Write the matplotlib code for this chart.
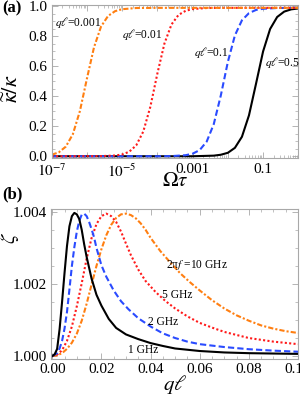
import numpy as np
import matplotlib.pyplot as plt
from matplotlib.ticker import MultipleLocator, LogLocator, NullFormatter

plt.rcParams['font.family'] = ['Liberation Serif', 'DejaVu Serif']
plt.rcParams['mathtext.fontset'] = 'stix'

# ---- panel (a): kappa_tilde / kappa vs Omega*tau (log10 of Omega*tau)
logx_a001 = [-7.0, -6.8, -6.6, -6.4, -6.2, -6.0, -5.8, -5.6, -5.4, -5.2, -5.0, -4.6, -4.0, -3.0, -2.0, -1.0, 0.0]
kap_a001 = [0.010, 0.026, 0.064, 0.147, 0.301, 0.518, 0.726, 0.865, 0.936, 0.968, 0.981, 0.989, 0.99, 0.99, 0.99, 0.99, 0.99]

logx_a01 = [-7.0, -5.6, -5.2, -5.0, -4.8, -4.6, -4.4, -4.2, -4.0, -3.8, -3.6, -3.4, -3.2, -3.0, -2.6, -2.0, 0.0]
kap_a01 = [0.0, 0.001, 0.005, 0.012, 0.030, 0.073, 0.165, 0.330, 0.552, 0.752, 0.879, 0.943, 0.970, 0.982, 0.989, 0.99, 0.99]

logx_a1 = [-7.0, -4.0, -3.6, -3.2, -3.0, -2.8, -2.6, -2.4, -2.2, -2.0, -1.8, -1.6, -1.4, -1.2, -1.0, -0.6, 0.0]
kap_a1 = [0.0, 0.0, 0.001, 0.007, 0.017, 0.041, 0.098, 0.214, 0.405, 0.629, 0.806, 0.907, 0.955, 0.976, 0.984, 0.989, 0.99]

logx_a5 = [-7.0, -3.0, -2.4, -2.2, -2.0, -1.8, -1.6, -1.4, -1.2, -1.0, -0.8, -0.6, -0.4, -0.2, 0.0]
kap_a5 = [0.0, 0.0, 0.004, 0.010, 0.023, 0.056, 0.130, 0.273, 0.484, 0.699, 0.849, 0.929, 0.965, 0.980, 0.986]

xticks_a = [1e-7, 1e-6, 1e-5, 1e-4, 1e-3, 1e-2, 1e-1, 1]
xticklabels_a = [r'$10^{-7}$', '', r'$10^{-5}$', '', '0.001', '', '0.1', '']
labels_a = [r'$q\ell$=0.001', r'$q\ell$=0.01', r'$q\ell$=0.1', r'$q\ell$=0.5']

# ---- panel (b): zeta vs q*l, values given as (zeta-1)*1e3
q_1 = [0.0, 0.001, 0.002, 0.003, 0.004, 0.005, 0.006, 0.007, 0.008, 0.009, 0.010, 0.011, 0.012, 0.013, 0.014,
       0.016, 0.018, 0.020, 0.023, 0.026, 0.030, 0.035, 0.040, 0.045, 0.050, 0.060, 0.070, 0.080, 0.090, 0.100]
z_1 = [0.0, 0.05, 0.20, 0.75, 1.50, 2.30, 3.05, 3.60, 3.88, 3.97, 3.93, 3.80, 3.50, 3.10, 2.75,
       2.15, 1.70, 1.40, 1.03, 0.78, 0.60, 0.47, 0.36, 0.28, 0.21, 0.14, 0.10, 0.08, 0.07, 0.06]

q_2 = [0.0, 0.002, 0.003, 0.004, 0.005, 0.006, 0.007, 0.008, 0.009, 0.010, 0.011, 0.012, 0.013, 0.014, 0.015,
       0.016, 0.017, 0.018, 0.020, 0.022, 0.025, 0.028, 0.031, 0.035, 0.040, 0.045, 0.050, 0.055, 0.060,
       0.070, 0.080, 0.090, 0.100]
z_2 = [0.0, 0.08, 0.21, 0.42, 0.76, 1.22, 1.85, 2.50, 3.02, 3.45, 3.75, 3.92, 3.95, 3.88, 3.72,
       3.52, 3.30, 3.00, 2.52, 2.20, 1.82, 1.52, 1.30, 1.05, 0.82, 0.63, 0.50, 0.40, 0.33,
       0.25, 0.19, 0.15, 0.12]

q_5 = [0.0, 0.002, 0.004, 0.006, 0.008, 0.010, 0.012, 0.014, 0.016, 0.018, 0.020, 0.022, 0.024, 0.026,
       0.028, 0.030, 0.032, 0.035, 0.038, 0.042, 0.046, 0.050, 0.055, 0.060, 0.065, 0.070, 0.080, 0.090, 0.100]
z_5 = [0.0, 0.04, 0.16, 0.42, 0.82, 1.38, 2.02, 2.70, 3.27, 3.66, 3.88, 3.95, 3.88, 3.72,
       3.45, 3.12, 2.80, 2.40, 2.08, 1.78, 1.53, 1.32, 1.10, 0.92, 0.79, 0.67, 0.50, 0.40, 0.33]

q_10 = [0.0, 0.002, 0.004, 0.006, 0.008, 0.010, 0.012, 0.014, 0.016, 0.018, 0.020, 0.022, 0.024, 0.026,
        0.028, 0.030, 0.032, 0.034, 0.036, 0.038, 0.040, 0.044, 0.048, 0.052, 0.056, 0.060, 0.065, 0.070,
        0.075, 0.080, 0.085, 0.090, 0.095, 0.100]
z_10 = [0.0, 0.02, 0.08, 0.20, 0.37, 0.62, 0.98, 1.45, 1.98, 2.50, 2.96, 3.35, 3.64, 3.83,
        3.93, 3.95, 3.91, 3.82, 3.68, 3.50, 3.28, 2.91, 2.60, 2.30, 2.05, 1.82, 1.55, 1.32,
        1.13, 0.98, 0.85, 0.76, 0.69, 0.64]

labels_b = ['1 GHz', '2 GHz', '5 GHz', r'2π$f$ =10 GHz']

c_orange = '#ff7f11'
c_red = '#ff1a1a'
c_blue = '#2a4bff'
c_black = 'black'
frame_col = '#a8a8a8'


def style_axes(ax):
    for s in ax.spines.values():
        s.set_color(frame_col)
        s.set_linewidth(0.8)
    ax.tick_params(which='both', direction='in', top=True, right=True, color=frame_col,
                   labelcolor='black', labelsize=11, pad=3)
    ax.tick_params(which='major', length=4, width=0.6)
    ax.tick_params(which='minor', length=2, width=0.5)


fig = plt.figure(figsize=(3.0, 3.95), dpi=100)
W, H = 300.0, 395.0

# (a)
ax1 = fig.add_axes([51.7 / W, 1 - 158.5 / H, 246.6 / W, 153.5 / H])
ax1.plot(10 ** np.array(logx_a5), kap_a5, color=c_black, lw=1.5)
ax1.plot(10 ** np.array(logx_a1), kap_a1, color=c_blue, lw=1.5, dashes=(3, 1.5))
ax1.plot(10 ** np.array(logx_a01), kap_a01, color=c_red, lw=1.5, dashes=(1, 1.1))
ax1.plot(10 ** np.array(logx_a001), kap_a001, color=c_orange, lw=1.5, dashes=(2.5, 1, 1, 1))
ax1.set_xscale('log')
ax1.set_xlim(1e-7, 1)
ax1.set_ylim(-0.015, 1.009)
ax1.set_xticks(xticks_a)
ax1.set_xticklabels(xticklabels_a)
ax1.xaxis.set_minor_locator(LogLocator(base=10, subs=np.arange(2, 10), numticks=20))
ax1.xaxis.set_minor_formatter(NullFormatter())
ax1.set_yticks([0, 0.2, 0.4, 0.6, 0.8, 1.0])
ax1.yaxis.set_minor_locator(MultipleLocator(0.05))
style_axes(ax1)

# (b)
ax2 = fig.add_axes([51.0 / W, 1 - 359.3 / H, 247.0 / W, 150.0 / H])
ax2.plot(q_10, 1 + 1e-3 * np.array(z_10), color=c_orange, lw=1.5, dashes=(2.5, 1, 1, 1))
ax2.plot(q_5, 1 + 1e-3 * np.array(z_5), color=c_red, lw=1.5, dashes=(1, 1.1))
ax2.plot(q_2, 1 + 1e-3 * np.array(z_2), color=c_blue, lw=1.5, dashes=(3, 1.5))
ax2.plot(q_1, 1 + 1e-3 * np.array(z_1), color=c_black, lw=1.5)
ax2.set_xlim(-0.0005, 0.1)
ax2.set_ylim(0.99991, 1.00407)
ax2.set_xticks([0, 0.02, 0.04, 0.06, 0.08, 0.10])
ax2.set_xticklabels(['0.00', '0.02', '0.04', '0.06', '0.08', '0.10'])
ax2.set_yticks([1.000, 1.002, 1.004])
ax2.set_yticklabels(['1.000', '1.002', '1.004'])
ax2.xaxis.set_minor_locator(MultipleLocator(0.005))
ax2.yaxis.set_minor_locator(MultipleLocator(0.0005))
style_axes(ax2)


def ptext(x, y, s, **kw):
    fig.text(x / W, 1 - y / H, s, ha='center', va='center', **kw)


# panel letters and axis labels
ptext(12, 8, '(a)', fontsize=12, fontweight='bold')
ptext(12, 194, '(b)', fontsize=12, fontweight='bold')
ptext(175, 182, r'$\Omega\tau$', fontsize=15)
ptext(13, 89, r'$\widetilde{\kappa}/\kappa$', fontsize=16, rotation=90)
ptext(175, 384, r'$q\ell$', fontsize=15)
ptext(10, 238, r'$\zeta$', fontsize=15, rotation=90)

# curve annotations
for (x, y), s in zip([(78, 23), (142, 35), (211, 52), (282, 62)], labels_a):
    ptext(x, y, s, fontsize=8.3)
for (x, y), s in zip([(143, 350), (163, 322), (177, 295), (197, 265)], labels_b):
    ptext(x, y, s, fontsize=8.3)

plt.savefig('out.png', dpi=100)
